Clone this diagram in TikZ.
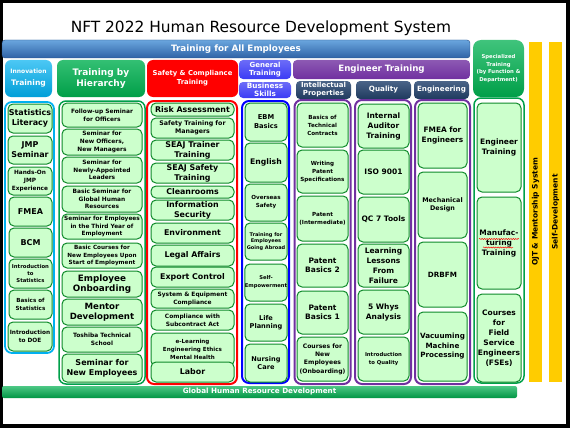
\documentclass[tikz,border=0pt]{standalone}
\usepackage{fontspec}
\setmainfont{DejaVu Sans}
\usetikzlibrary{decorations.pathmorphing}
\definecolor{itemfill}{HTML}{CCFFCC}
\definecolor{itemdraw}{HTML}{0E8A2A}
\definecolor{cyanb}{HTML}{00B0F0}
\definecolor{greenb}{HTML}{00B050}
\definecolor{greenc}{HTML}{00A04A}
\definecolor{redb}{HTML}{FF0000}
\definecolor{blueb}{HTML}{0000FF}
\definecolor{bluehd}{HTML}{3B3BF5}
\definecolor{purpb}{HTML}{7030A0}
\definecolor{navyt}{HTML}{4A6488}
\definecolor{navyb}{HTML}{1F3A5E}
\definecolor{allt}{HTML}{6AA6DE}
\definecolor{allb}{HTML}{2F62A6}
\definecolor{yell}{HTML}{FFCC00}
\newcommand\myfs[2]{\fontsize{#1}{#2}\selectfont\bfseries}
\newcommand\rbox[7]{%
  \pgfmathsetmacro\rbw{#5-#3}%
  \pgfmathsetmacro\rbh{#6-#4}%
  \node[#1,minimum width=\rbw pt,minimum height=\rbh pt] (#2) at ({(#3+#5)/2},{(#4+#6)/2}) {#7};}
\begin{document}
\begin{tikzpicture}[x=1pt,y=-1pt,
  item/.style={draw=itemdraw,fill=itemfill,rounded corners=5pt,line width=1pt,inner sep=0pt,align=center,text=black},
  hdr/.style={rounded corners=4pt,inner sep=0pt,align=center,text=white},
  cont/.style={rounded corners=7pt,fill=white,line width=1.8pt,inner sep=0pt},
  ybar/.style={fill=yell,inner sep=0pt}]
\fill[black] (0,0) rectangle (570,428);
\fill[white] (3,3) rectangle (566,424);
\useasboundingbox (0,0) rectangle (570,428);

\node[inner sep=0pt] (title) at (261,28) {\fontsize{15.4}{18}\selectfont NFT 2022 Human Resource Development System};

% top bars
\rbox{hdr,top color=allt,bottom color=allb,draw=allb!80!black,line width=0.4pt,rounded corners=3pt,font=\myfs{8.8}{10}}{allemp}{2}{40}{470}{58}{Training for All Employees}
\rbox{hdr,top color=greenb!75!white,bottom color=greenb!90!black,rounded corners=8pt,font=\myfs{5.3}{7.5}}{spec}{473}{40}{524}{97}{Specialized\\Training\\(by Function \&\\Department)}

% headers row
\rbox{hdr,top color=cyanb!70!white,bottom color=cyanb!90!black,rounded corners=6pt}{hInnov}{5}{60}{52}{97}{\myfs{6}{9}Innovation\\\myfs{7.6}{9}Training}
\rbox{hdr,top color=greenb!80!white,bottom color=greenb!90!black,rounded corners=6pt,font=\myfs{9}{11}}{hHier}{57}{60}{145}{97}{Training by\\Hierarchy}
\rbox{hdr,fill=redb,rounded corners=6pt,font=\myfs{6.8}{9}}{hSafe}{147}{60}{238}{97}{Safety \& Compliance\\Training}
\rbox{hdr,top color=bluehd!75!white,bottom color=bluehd,font=\myfs{7}{8.5}}{hGen}{239}{60}{291}{79}{General\\Training}
\rbox{hdr,top color=bluehd!75!white,bottom color=bluehd,font=\myfs{7.3}{8.5}}{hBus}{239}{82}{291}{98}{Business\\Skills}
\rbox{hdr,top color=purpb!80!white,bottom color=purpb,font=\myfs{8.7}{10}}{hEng}{293}{60}{470}{79}{Engineer Training}
\rbox{hdr,top color=navyt,bottom color=navyb,font=\myfs{7}{8}}{hIP}{296}{81}{351}{99}{Intellectual\\Properties}
\rbox{hdr,top color=navyt,bottom color=navyb,font=\myfs{7.2}{9}}{hQual}{356}{81}{411}{99}{Quality}
\rbox{hdr,top color=navyt,bottom color=navyb,font=\myfs{7.2}{9}}{hEngg}{414}{81}{469}{99}{Engineering}

% yellow bars
\rbox{ybar}{ojt}{529}{42}{542}{382}{}
\rbox{ybar}{selfd}{549}{42}{562}{382}{}
\node[rotate=90,font=\myfs{7.5}{9},text=black] (ojtt) at (ojt.center) {OJT \& Mentorship System};
\node[rotate=90,font=\myfs{7.5}{9},text=black] (selft) at (selfd.center) {Self-Development};

% containers
\rbox{cont,draw=cyanb}{cInnov}{5}{102}{54}{353}{}
\rbox{cont,draw=greenc,line width=1.5pt}{cHier}{59}{101}{145}{384}{}
\rbox{cont,draw=redb,line width=2pt}{cSafe}{147}{101}{237}{384}{}
\rbox{cont,draw=blueb,line width=2pt}{cBus}{242}{101}{289}{383}{}
\rbox{cont,draw=purpb,line width=2pt}{cIP}{294.5}{100}{350.5}{384}{}
\rbox{cont,draw=purpb,line width=2pt}{cQual}{355}{100}{411}{384}{}
\rbox{cont,draw=purpb,line width=2pt}{cEng}{415}{100}{470}{384}{}
\rbox{cont,draw=greenc,line width=1.5pt}{cSpec}{474}{98}{524}{383}{}

% global bar
\rbox{hdr,top color=greenb!70!white,bottom color=greenb!85!black,rounded corners=2pt,font=\myfs{7.2}{8}}{glob}{2}{386}{517}{398}{Global Human Resource Development}

% innovation items
\rbox{item,font=\myfs{8}{10}}{s1}{8}{104}{52}{133}{Statistics\\Literacy}
\rbox{item,font=\myfs{8}{10}}{s2}{8}{136}{52}{164}{JMP\\Seminar}
\rbox{item,font=\myfs{5.8}{8.3}}{s3}{8}{167}{52}{195}{Hands-On\\JMP\\Experience}
\rbox{item,font=\myfs{8}{10}}{s4}{9}{197}{52}{226}{FMEA}
\rbox{item,font=\myfs{8}{10}}{s5}{9}{228}{52}{257}{BCM}
\rbox{item,font=\myfs{5.3}{6.7}}{s6}{9}{259}{52}{288}{Introduction\\to\\Statistics}
\rbox{item,font=\myfs{5.6}{8}}{s7}{9}{290}{52}{319}{Basics of\\Statistics}
\rbox{item,font=\myfs{5.8}{8}}{s8}{8}{322}{52}{351}{Introduction\\to DOE}

% hierarchy items
\rbox{item,font=\myfs{5.9}{7.7}}{h1}{62}{103}{142}{127}{Follow-up Seminar\\for Officers}
\rbox{item,font=\myfs{5.9}{7.7}}{h2}{62}{129}{142}{155}{Seminar for\\New Officers,\\New Managers}
\rbox{item,font=\myfs{5.9}{7.7}}{h3}{62}{157}{142}{183}{Seminar for\\Newly-Appointed\\Leaders}
\rbox{item,font=\myfs{5.9}{7.7}}{h4}{62}{186}{142}{212}{Basic Seminar for\\Global Human\\Resources}
\rbox{item,font=\myfs{5.8}{7.7}}{h5}{62}{214}{142}{239}{Seminar for Employees\\in the Third Year of\\Employment}
\rbox{item,font=\myfs{5.7}{7.7}}{h6}{62}{243}{142}{268}{Basic Courses for\\New Employees Upon\\Start of Employment}
\rbox{item,font=\myfs{8.8}{10}}{h7}{62}{271}{142}{297}{Employee\\Onboarding}
\rbox{item,font=\myfs{8.6}{10}}{h8}{62}{299}{142}{325}{Mentor\\Development}
\rbox{item,font=\myfs{5.9}{7.7}}{h9}{62}{327}{142}{352}{Toshiba Technical\\School}
\rbox{item,font=\myfs{8}{10}}{h10}{62}{354}{142}{382}{Seminar for\\New Employees}

% safety items
\rbox{item,font=\myfs{7.9}{10}}{f1}{151}{103}{234}{116}{Risk Assessment}
\rbox{item,font=\myfs{6.3}{8.5}}{f2}{151}{118}{234}{138}{Safety Training for\\Managers}
\rbox{item,font=\myfs{7.9}{10}}{f3}{151}{140}{234}{160}{SEAJ Trainer\\Training}
\rbox{item,font=\myfs{7.9}{10}}{f4}{151}{163}{234}{183}{SEAJ Safety\\Training}
\rbox{item,font=\myfs{7.9}{10}}{f5}{151}{186}{234}{198}{Cleanrooms}
\rbox{item,font=\myfs{7.9}{10}}{f6}{151}{200}{234}{220}{Information\\Security}
\rbox{item,font=\myfs{7.9}{10}}{f7}{151}{223}{234}{243}{Environment}
\rbox{item,font=\myfs{7.9}{10}}{f8}{151}{245}{234}{266}{Legal Affairs}
\rbox{item,font=\myfs{7.9}{10}}{f9}{151}{267}{234}{287}{Export Control}
\rbox{item,font=\myfs{5.9}{8}}{f10}{151}{289}{234}{308}{System \& Equipment\\Compliance}
\rbox{item,font=\myfs{5.9}{8}}{f11}{151}{310}{234}{330}{Compliance with\\Subcontract Act}
\rbox{item,font=\myfs{5.6}{8}}{f12}{151}{333}{234}{366}{e-Learning\\Engineering Ethics\\Mental Health}
\rbox{item,font=\myfs{7.9}{10}}{f13}{151}{362}{234}{382}{Labor}

% business items
\rbox{item,font=\myfs{6.7}{9}}{b1}{245}{103}{287}{141}{EBM\\Basics}
\rbox{item,font=\myfs{7.7}{10}}{b2}{245}{143}{287}{182}{English}
\rbox{item,font=\myfs{5.6}{8}}{b3}{245}{184}{287}{221}{Overseas\\Safety}
\rbox{item,font=\myfs{5}{6.5}}{b4}{245}{223}{287}{260}{Training for\\Employees\\Going Abroad}
\rbox{item,font=\myfs{5.2}{8}}{b5}{245}{264}{287}{301}{Self-\\Empowerment}
\rbox{item,font=\myfs{6.6}{8.5}}{b6}{245}{304}{287}{341}{Life\\Planning}
\rbox{item,font=\myfs{6.6}{8.5}}{b7}{245}{344}{287}{382}{Nursing\\Care}

% IP items
\rbox{item,font=\myfs{5.6}{8}}{p1}{297}{103}{348}{147}{Basics of\\Technical\\Contracts}
\rbox{item,font=\myfs{5.6}{8}}{p2}{297}{150}{348}{193}{Writing\\Patent\\Specifications}
\rbox{item,font=\myfs{5.6}{8}}{p3}{297}{196}{348}{241}{Patent\\(Intermediate)}
\rbox{item,font=\myfs{7.5}{9}}{p4}{297}{244}{348}{287}{Patent\\Basics 2}
\rbox{item,font=\myfs{7.5}{9}}{p5}{297}{291}{348}{334}{Patent\\Basics 1}
\rbox{item,font=\myfs{6.1}{8.3}}{p6}{297}{337}{348}{381}{Courses for\\New\\Employees\\(Onboarding)}

% quality items
\rbox{item,font=\myfs{7.5}{10}}{q1}{358}{104}{409}{148}{Internal\\Auditor\\Training}
\rbox{item,font=\myfs{7.5}{10}}{q2}{358}{150}{409}{194}{ISO 9001}
\rbox{item,font=\myfs{7.5}{10}}{q3}{358}{197}{409}{242}{QC 7 Tools}
\rbox{item,font=\myfs{7.5}{10}}{q4}{358}{244}{409}{287}{Learning\\Lessons\\From\\Failure}
\rbox{item,font=\myfs{7.5}{10}}{q5}{358}{290}{409}{334}{5 Whys\\Analysis}
\rbox{item,font=\myfs{5.3}{8}}{q6}{358}{337}{409}{381}{Introduction\\to Quality}

% engineering items
\rbox{item,font=\myfs{7.4}{10}}{e1}{418}{103}{467}{168}{FMEA for\\Engineers}
\rbox{item,font=\myfs{6.4}{8.5}}{e2}{418}{172}{467}{238}{Mechanical\\Design}
\rbox{item,font=\myfs{7.2}{9}}{e3}{418}{242}{467}{307}{DRBFM}
\rbox{item,font=\myfs{7.2}{9.5}}{e4}{418}{312}{467}{381}{Vacuuming\\Machine\\Processing}

% specialized items
\rbox{item,font=\myfs{7.5}{10}}{sp1}{477}{103}{521}{192}{Engineer\\Training}
\rbox{item,font=\myfs{7.5}{10}}{sp2}{477}{197}{521}{289}{Manufac-\\turing\\Training}
\rbox{item,font=\myfs{7.5}{10}}{sp3}{477}{294}{521}{382}{Courses\\for\\Field\\Service\\Engineers\\(FSEs)}

\draw[red,line width=0.5pt,decorate,decoration={snake,amplitude=0.6pt,segment length=2.4pt}] (479,239) -- (519,239);
\draw[red,line width=0.5pt,decorate,decoration={snake,amplitude=0.6pt,segment length=2.4pt}] (483,247.5) -- (513,247.5);
\end{tikzpicture}
\end{document}
